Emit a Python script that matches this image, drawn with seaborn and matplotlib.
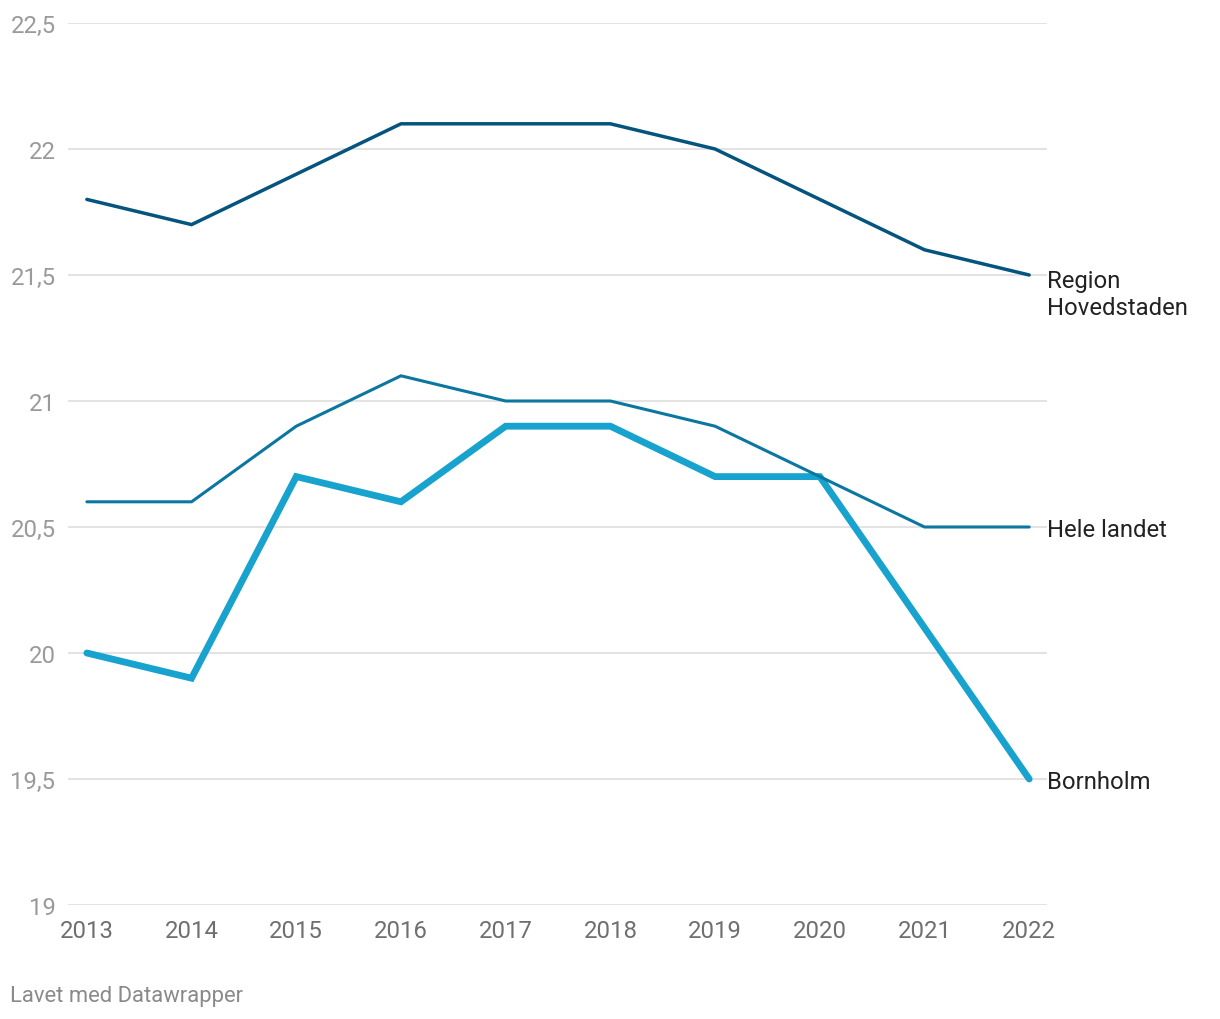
import pandas as pd
import matplotlib
matplotlib.use("Agg")
import matplotlib.pyplot as plt
import matplotlib.ticker as mticker
import seaborn as sns

years = [2013, 2014, 2015, 2016, 2017, 2018, 2019, 2020, 2021, 2022]
region_hovedstaden = [21.8, 21.7, 21.9, 22.1, 22.1, 22.1, 22.0, 21.8, 21.6, 21.5]
hele_landet = [20.6, 20.6, 20.9, 21.1, 21.0, 21.0, 20.9, 20.7, 20.5, 20.5]
bornholm = [20.0, 19.9, 20.7, 20.6, 20.9, 20.9, 20.7, 20.7, 20.1, 19.5]

series_names = ["Region\nHovedstaden", "Bornholm", "Hele landet"]
series_values = [region_hovedstaden, bornholm, hele_landet]
y_ticks = [19, 19.5, 20, 20.5, 21, 21.5, 22, 22.5]

sns.set_theme(style="white")
plt.rcParams["font.family"] = ["Roboto", "DejaVu Sans"]

colors = {"Region\nHovedstaden": "#05547e", "Hele landet": "#0b77a1", "Bornholm": "#18a2ce"}
widths = {"Region\nHovedstaden": 2.5, "Hele landet": 2.2, "Bornholm": 4.9}

df = pd.concat([
    pd.DataFrame({"year": years, "value": vals, "serie": name})
    for name, vals in zip(series_names, series_values)
])

fig = plt.figure(figsize=(12.2, 10.2), dpi=100)
ax = fig.add_axes([68 / 1220, 114 / 1020, 979 / 1220, 882 / 1020])

for name in series_names:
    sub = df[df["serie"] == name]
    sns.lineplot(data=sub, x="year", y="value", color=colors[name],
                 linewidth=widths[name], ax=ax, solid_capstyle="round",
                 solid_joinstyle="miter", zorder=3)

ax.set_xlim(2013 - 0.18, 2022 + 0.17)
ax.set_ylim(19, 22.5)
ax.set_xticks(years)
ax.set_yticks(y_ticks)
ax.yaxis.set_major_formatter(mticker.FuncFormatter(
    lambda v, p: (f"{v:g}").replace(".", ",")))
ax.grid(axis="y", color="#e3e3e3", linewidth=1.4, zorder=0)
ax.grid(axis="x", visible=False)
for s in ax.spines.values():
    s.set_visible(False)
ax.tick_params(axis="y", length=0, pad=9, labelsize=17.2, labelcolor="#9a9a9a")
ax.tick_params(axis="x", length=0, pad=10, labelsize=17.2, labelcolor="#6f6f6f")
ax.set_xlabel("")
ax.set_ylabel("")

# Direct labels at the line ends
for name, vals in zip(series_names, series_values):
    if "\n" in name:
        ax.annotate(name, (years[-1], vals[-1]), xytext=(13, 4), textcoords="offset points",
                    ha="left", va="top", fontsize=17.2, color="#222222", linespacing=1.2,
                    annotation_clip=False)
    else:
        ax.annotate(name, (years[-1], vals[-1]), xytext=(13, -2), textcoords="offset points",
                    ha="left", va="center", fontsize=17.2, color="#222222",
                    annotation_clip=False)

fig.text(10 / 1220, 1 - 997 / 1020, "Lavet med Datawrapper", ha="left", va="center",
         fontsize=15.8, color="#8a8a8a")

fig.savefig("out.png", dpi=100)
